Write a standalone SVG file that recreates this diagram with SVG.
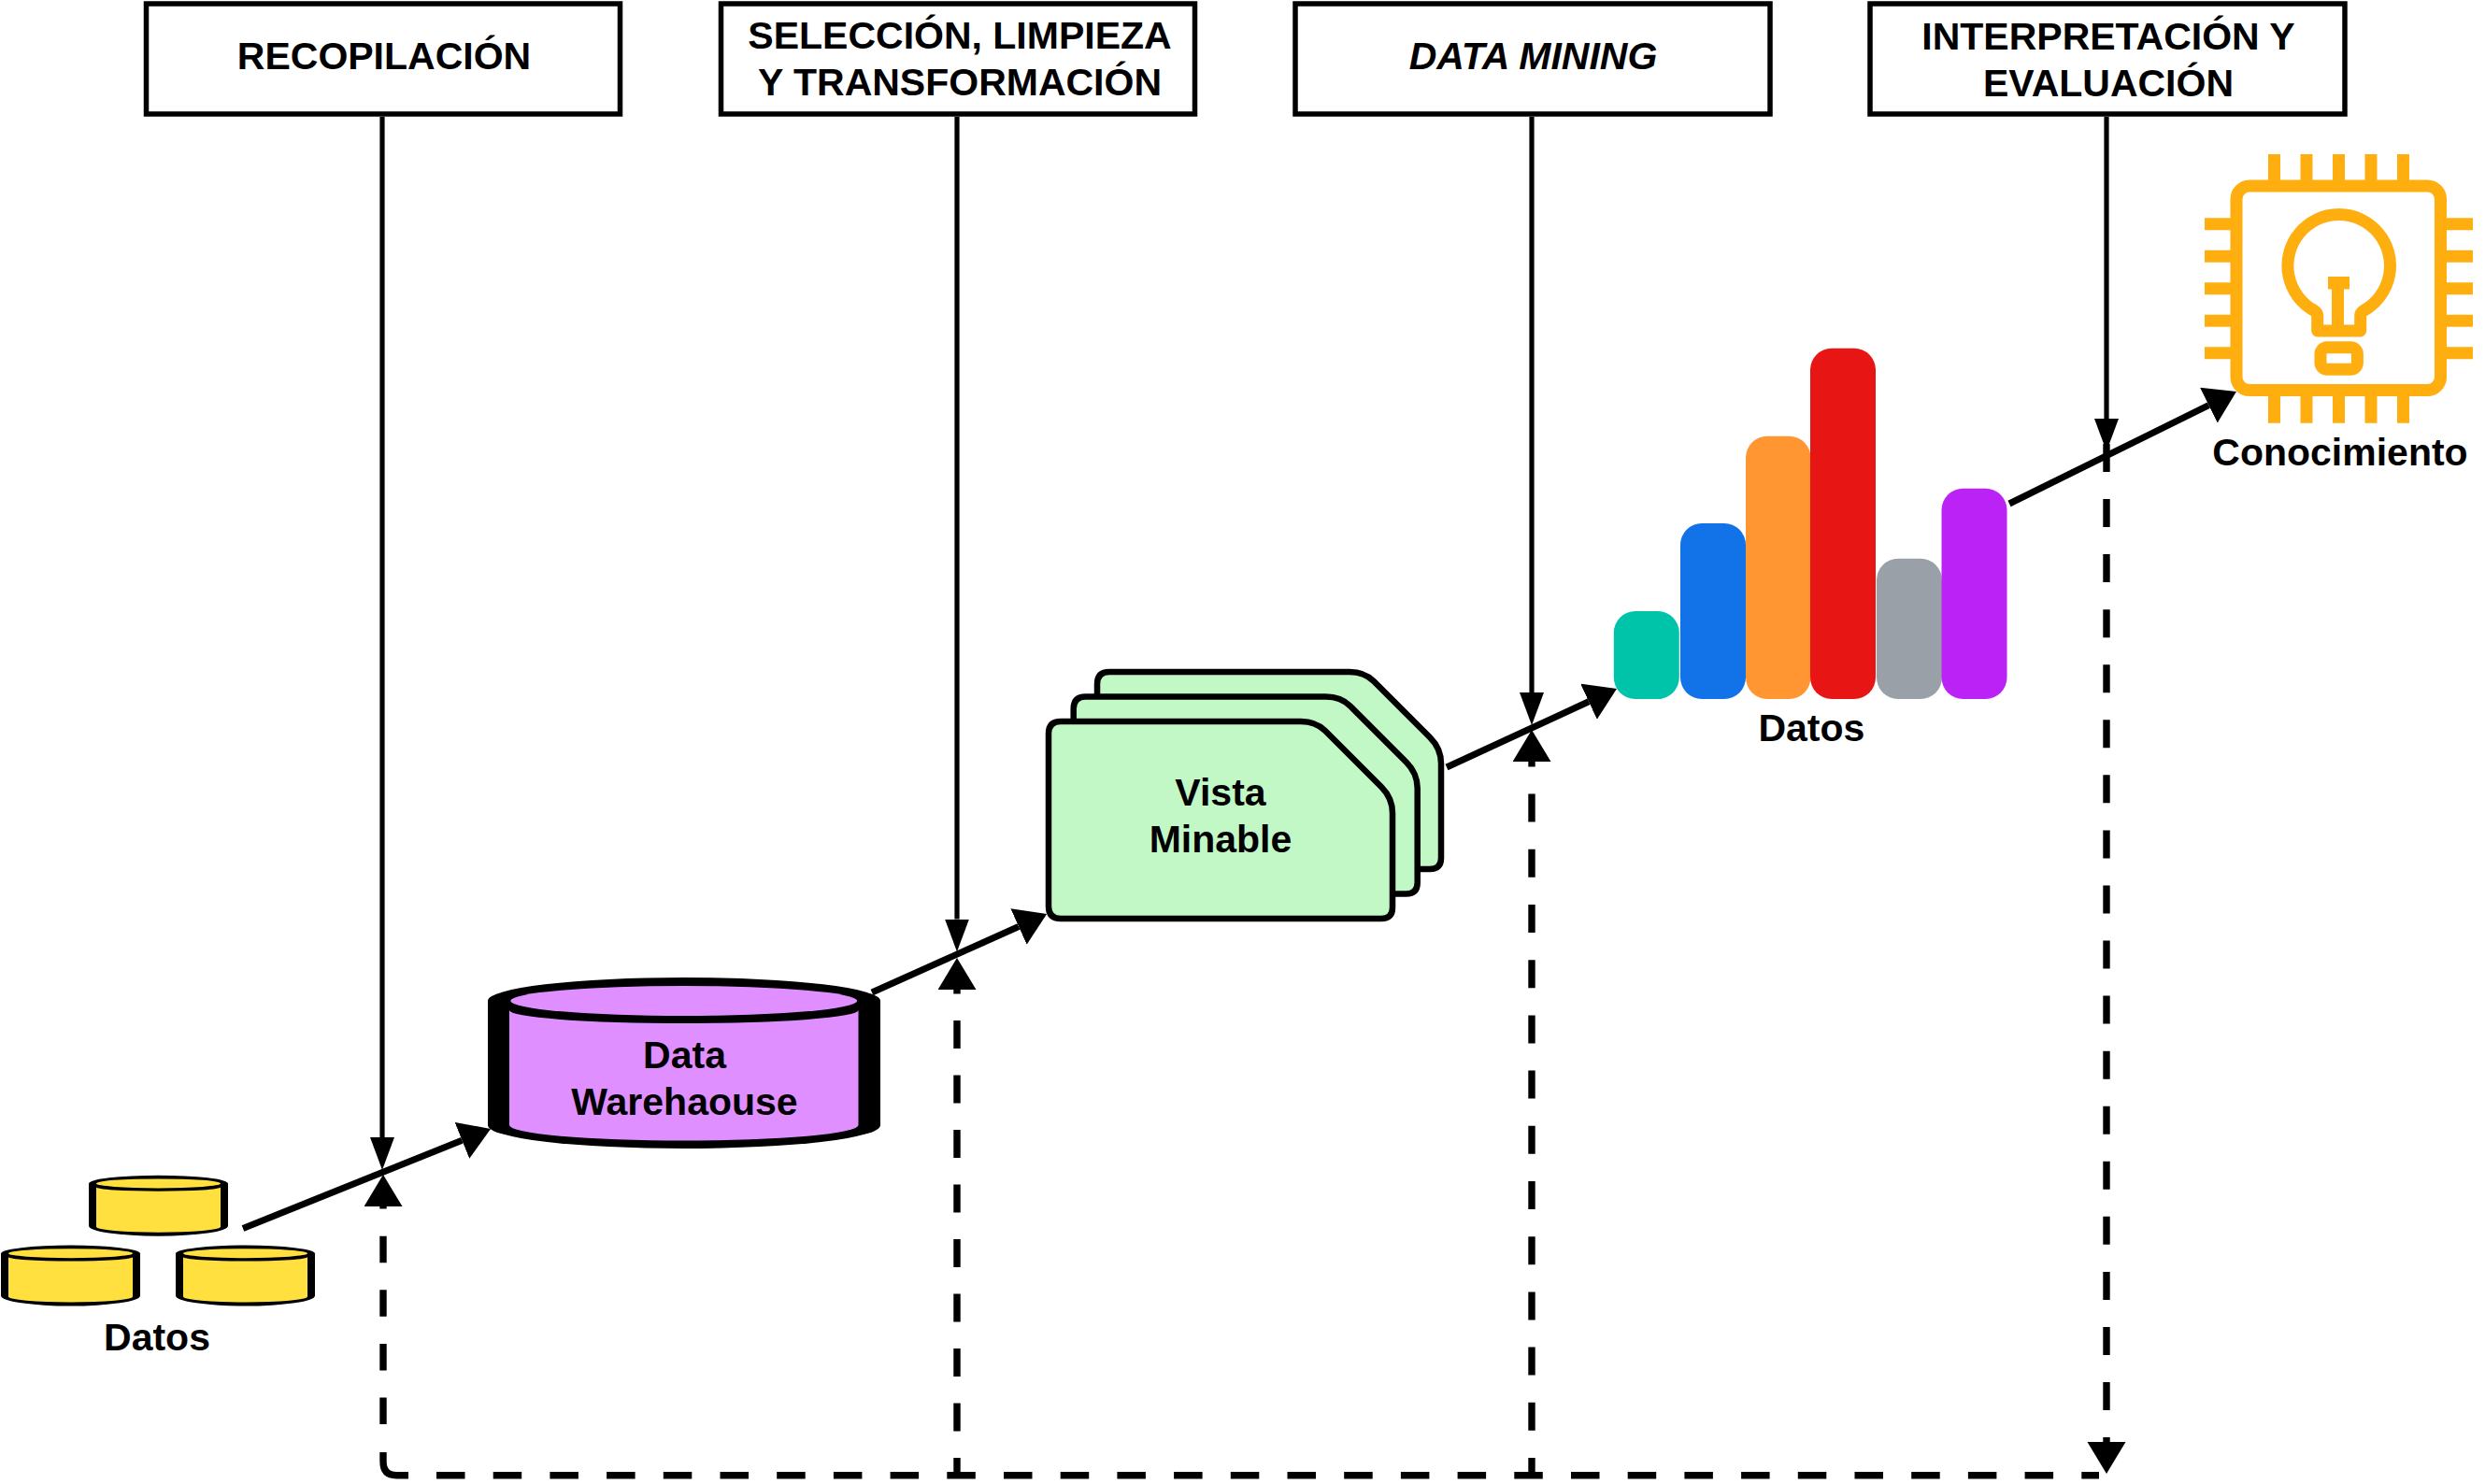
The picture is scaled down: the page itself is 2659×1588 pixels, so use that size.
<svg xmlns="http://www.w3.org/2000/svg" width="2659" height="1588" viewBox="0 0 2659 1588">
<style>
text{font-family:"Liberation Sans",Arial,sans-serif;font-size:41px;font-weight:700;fill:#000;text-anchor:middle}
.box{fill:#fff;stroke:#000;stroke-width:5.5}
.solid{fill:none;stroke:#000;stroke-width:5.2}
.flow{fill:none;stroke:#000;stroke-width:7}
.dash{fill:none;stroke:#000;stroke-width:7.4}
.chip{fill:none;stroke:#FFAE10;stroke-width:13}
.pin{fill:#FFAE10}
.card{fill:#C1F8C5;stroke:#000;stroke-width:6.5}
</style>
<defs>
<marker id="flowHead" markerUnits="userSpaceOnUse" markerWidth="34" markerHeight="44" refX="0" refY="21" orient="auto"><path d="M0,0L33,21L0,42Z" fill="#000"/></marker>
<marker id="solidHead" markerUnits="userSpaceOnUse" markerWidth="36" markerHeight="28" refX="0" refY="13" orient="auto"><path d="M0,0L35,13L0,26Z" fill="#000"/></marker>
<marker id="dashHead" markerUnits="userSpaceOnUse" markerWidth="36" markerHeight="42" refX="0" refY="20.5" orient="auto"><path d="M0,0L34,20.5L0,41Z" fill="#000"/></marker>
<g id="yellowCyl">
<path d="M0,9A74.5,9 0 0 1 149,9V54A74.5,11 0 0 1 0,54Z" fill="#000"/>
<ellipse cx="74.5" cy="8.7" rx="66.5" ry="5" fill="#FFE03F"/>
<path d="M8,12.5A66.5,4.5 0 0 0 141,12.5V55A66.5,6 0 0 1 8,55Z" fill="#FFE03F"/>
</g>
<path id="card" class="card" d="M1122,785Q1122,772 1135,772H1392Q1408,772 1418,782L1478,842Q1490,854 1490,870V971Q1490,983 1478,983H1135Q1122,983 1122,970Z"/>
</defs>

<g id="connectors">
<path class="solid" d="M409,125V1217" marker-end="url(#solidHead)"/>
<path class="solid" d="M1024,125V983.5" marker-end="url(#solidHead)"/>
<path class="solid" d="M1639,125V741" marker-end="url(#solidHead)"/>
<path class="solid" d="M2254,125V448" marker-end="url(#solidHead)"/>
<path class="flow" d="M260,1314.4L494.4,1220.3" marker-end="url(#flowHead)"/>
<path class="flow" d="M933,1062L1090,991.5" marker-end="url(#flowHead)"/>
<path class="flow" d="M1548,821L1700,750.8" marker-end="url(#flowHead)"/>
<path class="flow" d="M2150,539L2363.4,433.6" marker-end="url(#flowHead)"/>
<path class="dash" d="M410,1524V1291" stroke-dasharray="28.5 29.1" marker-end="url(#dashHead)"/>
<path class="dash" d="M410,1554V1564Q410,1578.7 424,1578.7H437"/>
<path class="dash" d="M467,1578.7H2246" stroke-dasharray="30.5 30.2"/>
<path class="dash" d="M1024,1575V1059" stroke-dasharray="30 28.5" stroke-dashoffset="15" marker-end="url(#dashHead)"/>
<path class="dash" d="M1639,1575V815" stroke-dasharray="30 29.2" stroke-dashoffset="15" marker-end="url(#dashHead)"/>
<path class="dash" d="M2254,475V1543" stroke-dasharray="30 29.06" marker-end="url(#dashHead)"/>
</g>

<g id="box-recopilacion"><rect class="box" x="156.5" y="4" width="507" height="118"/><text x="411" y="74">RECOPILACIÓN</text></g>
<g id="box-seleccion"><rect class="box" x="771.5" y="4" width="507" height="118"/><text x="1027" y="52">SELECCIÓN, LIMPIEZA</text><text x="1027" y="102">Y TRANSFORMACIÓN</text></g>
<g id="box-mining"><rect class="box" x="1386" y="4" width="508" height="118"/><text x="1640.5" y="74" font-style="italic">DATA MINING</text></g>
<g id="box-interpretacion"><rect class="box" x="2001" y="4" width="508" height="118"/><text x="2256" y="52.5">INTERPRETACIÓN Y</text><text x="2256" y="102.5">EVALUACIÓN</text></g>

<g id="datos-cylinders">
<use href="#yellowCyl" x="95" y="1257.7"/>
<use href="#yellowCyl" x="1" y="1332.5"/>
<use href="#yellowCyl" x="188" y="1332.5"/>
<text x="168" y="1444.5">Datos</text>
</g>

<g id="data-warehouse">
<path d="M522,1071A210,25 0 0 1 942,1071V1204A210,25 0 0 1 522,1204Z" fill="#000"/>
<ellipse cx="731.7" cy="1071" rx="185.5" ry="16" fill="#DF8FFF"/>
<path d="M545,1081A186.7,14 0 0 0 918.5,1081V1204A186.7,16.5 0 0 1 545,1204Z" fill="#DF8FFF"/>
<text x="732.5" y="1143">Data</text>
<text x="732.5" y="1192.5">Warehaouse</text>
</g>

<g id="vista-minable">
<use href="#card" x="52" y="-53"/>
<use href="#card" x="26.7" y="-26.5"/>
<use href="#card"/>
<text x="1306" y="861.7">Vista</text>
<text x="1306" y="911.7">Minable</text>
</g>

<g id="chart">
<rect x="1726.8" y="654" width="70" height="94" rx="23" fill="#00C4AA"/>
<rect x="1798" y="560" width="70" height="188" rx="23" fill="#1273E8"/>
<rect x="1868" y="466.7" width="69.5" height="281.3" rx="23" fill="#FF9632"/>
<rect x="1937" y="372.7" width="70" height="375.3" rx="23" fill="#E81515"/>
<rect x="2008" y="597.7" width="70" height="150.3" rx="23" fill="#99A0A8"/>
<rect x="2077.5" y="522.7" width="70" height="225.3" rx="23" fill="#BB22F5"/>
<text x="1938.4" y="792.7">Datos</text>
</g>

<g id="conocimiento">
<rect class="chip" x="2393" y="199" width="218.5" height="218.5" rx="14"/>
<path class="pin" d="M2427,165h13v28h-13zM2461.5,165h13v28h-13zM2496,165h13v28h-13zM2530.5,165h13v28h-13zM2565,165h13v28h-13zM2427,424h13v28.7h-13zM2461.5,424h13v28.7h-13zM2496,424h13v28.7h-13zM2530.5,424h13v28.7h-13zM2565,424h13v28.7h-13zM2359,233.2h28v13h-28zM2359,267.8h28v13h-28zM2359,302.2h28v13h-28zM2359,336.8h28v13h-28zM2359,371.2h28v13h-28zM2618,233.2h28v13h-28zM2618,267.8h28v13h-28zM2618,302.2h28v13h-28zM2618,336.8h28v13h-28zM2618,371.2h28v13h-28z"/>
<path class="chip" stroke-linejoin="round" d="M2479.7,354V338Q2479.7,334.5 2476,332.2A54.8,54.8 0 1 1 2529.4,332.2Q2525.7,334.5 2525.7,338V354Z"/>
<path class="pin" d="M2491,296h23v13.5h-6V354h-13V309.5h-4z"/>
<rect class="chip" x="2483" y="371.8" width="39.4" height="23.4" rx="7"/>
<text x="2504" y="497.7">Conocimiento</text>
</g>
</svg>
